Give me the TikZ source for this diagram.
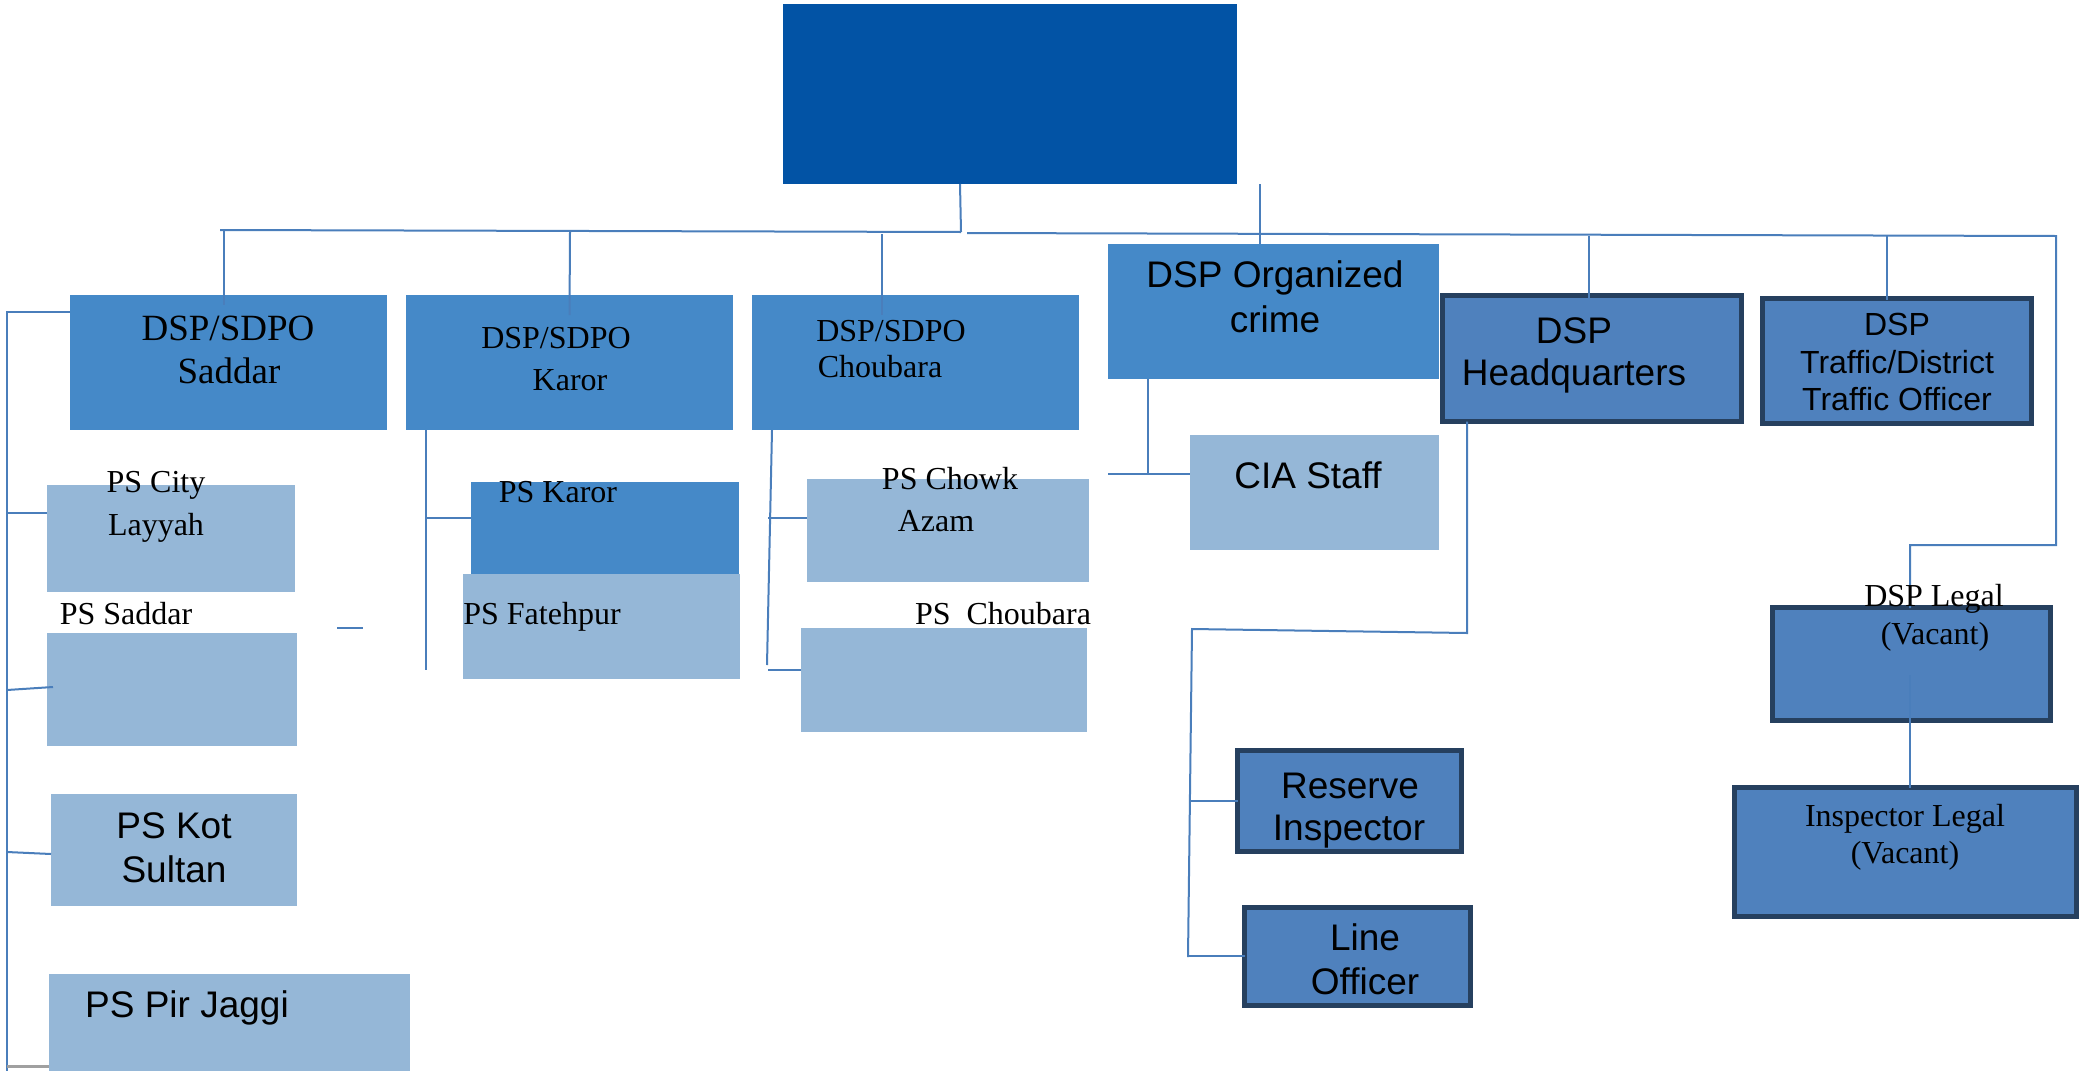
\documentclass[tikz,border=0pt]{standalone}
\usepackage{fontspec}
\setmainfont{Liberation Serif}
\newfontfamily\sansf{Liberation Sans}
\definecolor{topblue}{HTML}{0253A5}
\definecolor{midblue}{HTML}{4589C8}
\definecolor{lightblue}{HTML}{95B7D7}
\definecolor{accblue}{HTML}{4F81BD}
\definecolor{navy}{HTML}{26405F}
\definecolor{conn}{HTML}{4A7EBB}
\definecolor{greyln}{HTML}{A0A0A0}
\tikzset{
  bx/.style 2 args={anchor=north west, minimum width=#1pt, minimum height=#2pt, inner sep=0pt, outer sep=0pt},
  topbox/.style={fill=topblue, draw=none},
  midbox/.style={fill=midblue, draw=none},
  lightbox/.style={fill=lightblue, draw=none},
  accbox/.style={fill=accblue, draw=navy, line width=5pt},
  ln/.style={draw=conn, line width=2pt},
  lbl/.style={inner sep=0pt, anchor=base, text=black},
  sa37/.style={lbl, font=\sansf\fontsize{37}{44}\selectfont},
  sa32/.style={lbl, font=\sansf\fontsize{32}{38}\selectfont},
  se37/.style={lbl, font=\fontsize{37}{44}\selectfont},
  se32/.style={lbl, font=\fontsize{32}{38}\selectfont},
}
\begin{document}
\begin{tikzpicture}[x=1pt,y=-1pt]
\useasboundingbox (0,0) rectangle (2093,1071);
% boxes
\node[topbox, bx={454}{180}] (top) at (783,4) {};
\node[midbox, bx={317}{135}] (saddar) at (70,295) {};
\node[midbox, bx={327}{135}] (karor) at (406,295) {};
\node[midbox, bx={327}{135}] (choubara) at (752,295) {};
\node[midbox, bx={331}{135}] (orgcrime) at (1108,244) {};
\node[accbox, bx={299}{126}] (hq) at (1442.5,295.5) {};
\node[accbox, bx={269}{125}] (traffic) at (1762.5,298.5) {};
\node[lightbox, bx={249}{115}] (cia) at (1190,435) {};
\node[lightbox, bx={248}{107}] (pscity) at (47,485) {};
\node[lightbox, bx={250}{113}] (pssaddar) at (47,633) {};
\node[lightbox, bx={246}{112}] (pskot) at (51,794) {};
\node[lightbox, bx={361}{97}] (pspir) at (49,974) {};
\node[midbox, bx={268}{92}] (pskaror) at (471,482) {};
\node[lightbox, bx={277}{105}] (psfateh) at (463,574) {};
\node[lightbox, bx={282}{103}] (pschowk) at (807,479) {};
\node[lightbox, bx={286}{104}] (pschoubara) at (801,628) {};
\node[accbox, bx={224}{101}] (reserve) at (1237.5,750.5) {};
\node[accbox, bx={226}{98}] (lineoff) at (1244.5,907.5) {};
\node[accbox, bx={278}{113}] (dsplegal) at (1772.5,607.5) {};
\node[accbox, bx={342}{129}] (insplegal) at (1734.5,787.5) {};
% bus coordinates
\coordinate (trunk) at (961,232);
\coordinate (busL) at (220,230);
\coordinate (busR) at (2056,236);
\coordinate (busRs) at (967,233);
\coordinate (loopA) at (2056,545);
\coordinate (loopB) at (1910,545);
\coordinate (loopC) at (1910,608);
\coordinate (loopD) at (1910,675);
\coordinate (leftTop) at (7,312);
\coordinate (leftBot) at (7,1071);
\coordinate (karV) at (426,670);
\coordinate (choV) at (767,665);
\coordinate (orgJ) at (1148,474);
\coordinate (hqA) at (1467,633);
\coordinate (hqB) at (1192,629);
\coordinate (hqC) at (1188,957);
\coordinate (dashA) at (337,628);
\coordinate (dashB) at (363,628);
% connectors
\draw[ln] ([xshift=-50pt]top.south) -- (trunk);
\draw[ln] (busL) -- (trunk);
\draw[ln] (busRs) -- (busR) -- (loopA) -- (loopB) -- (loopC);
\draw[ln] (loopD) -- (insplegal.north -| loopD);
\draw[ln] (top.south -| orgcrime.north) ++(-14pt,0) -- ([xshift=-14pt]orgcrime.north);
\draw[ln] (224,231) -- ([yshift=-10pt]saddar.north -| 224,0);
\draw[ln] (570,232) -- ([yshift=-20pt]karor.north);
\draw[ln] (882,234) -- (882,315);
\draw[ln] (1589,236) -- (1589,298);
\draw[ln] (1887,236) -- (1887,300);
% left bracket
\draw[ln] ([yshift=-17pt]saddar.north west) -- (leftTop) -- (leftBot);
\draw[ln] (7,513) -- (pscity.west |- 0,513);
\draw[ln] (7,690) -- (53,687);
\draw[ln] (7,852) -- (pskot.west |- 0,854);
\draw[draw=greyln, line width=3pt] (7,1066) -- (49,1066);
\draw[ln] (dashA) -- (dashB);
% karor group
\draw[ln] (karor.south -| 426,0) -- (karV);
\draw[ln] (426,518) -- (pskaror.west |- 0,518);
% choubara group
\draw[ln] (choubara.south -| 772,0) -- (choV);
\draw[ln] (768,518) -- (pschowk.west |- 0,518);
\draw[ln] (768,670) -- (pschoubara.west |- 0,670);
% organized crime
\draw[ln] (orgcrime.south -| orgJ) -- (orgJ);
\draw[ln] (orgcrime.west |- orgJ) -- (cia.west |- orgJ);
% headquarters
\draw[ln] (hq.south -| hqA) -- (hqA) -- (hqB) -- (hqC);
\draw[ln] (1191,801) -- (reserve.west |- 0,801);
\draw[ln] (1188,956) -- (lineoff.west |- 0,956);
% labels
\node[se37] (tSad1) at (228,340) {DSP/SDPO};
\node[se37] (tSad2) at (229,383) {Saddar};
\node[se32] (tKar1) at (556,348) {DSP/SDPO};
\node[se32] (tKar2) at (570,390) {Karor};
\node[se32] (tCho1) at (891,341) {DSP/SDPO};
\node[se32] (tCho2) at (880,377) {Choubara};
\node[sa37] (tOrg1) at (1275,287) {DSP Organized};
\node[sa37] (tOrg2) at (1275,332) {crime};
\node[sa37] (tHq1) at (1574,343) {DSP};
\node[sa37] (tHq2) at (1574,385) {Headquarters};
\node[sa32] (tTr1) at (1897,335) {DSP};
\node[sa32] (tTr2) at (1897,373) {Traffic/District};
\node[sa32] (tTr3) at (1897,410) {Traffic Officer};
\node[sa37] (tCia) at (1308,488) {CIA Staff};
\node[se32] (tCity1) at (156,492) {PS City};
\node[se32] (tCity2) at (156,535) {Layyah};
\node[se32] (tPsSad) at (126,624) {PS Saddar};
\node[sa37] (tKot1) at (174,838) {PS Kot};
\node[sa37] (tKot2) at (174,882) {Sultan};
\node[sa37] (tPir) at (187,1017) {PS Pir Jaggi};
\node[se32] (tPsKar) at (558,502) {PS Karor};
\node[se32] (tFat) at (542,624) {PS Fatehpur};
\node[se32] (tChw1) at (950,489) {PS Chowk};
\node[se32] (tChw2) at (936,531) {Azam};
\node[se32] (tPsCho) at (1003,624) {PS\ \ Choubara};
\node[sa37] (tRes1) at (1350,798) {Reserve};
\node[sa37] (tRes2) at (1349,840) {Inspector};
\node[sa37] (tLin1) at (1365,950) {Line};
\node[sa37] (tLin2) at (1365,994) {Officer};
\node[se32] (tLeg1) at (1934,606) {DSP Legal};
\node[se32] (tLeg2) at (1935,644) {(Vacant)};
\node[se32] (tIns1) at (1905,826) {Inspector Legal};
\node[se32] (tIns2) at (1905,863) {(Vacant)};
\end{tikzpicture}
\end{document}
